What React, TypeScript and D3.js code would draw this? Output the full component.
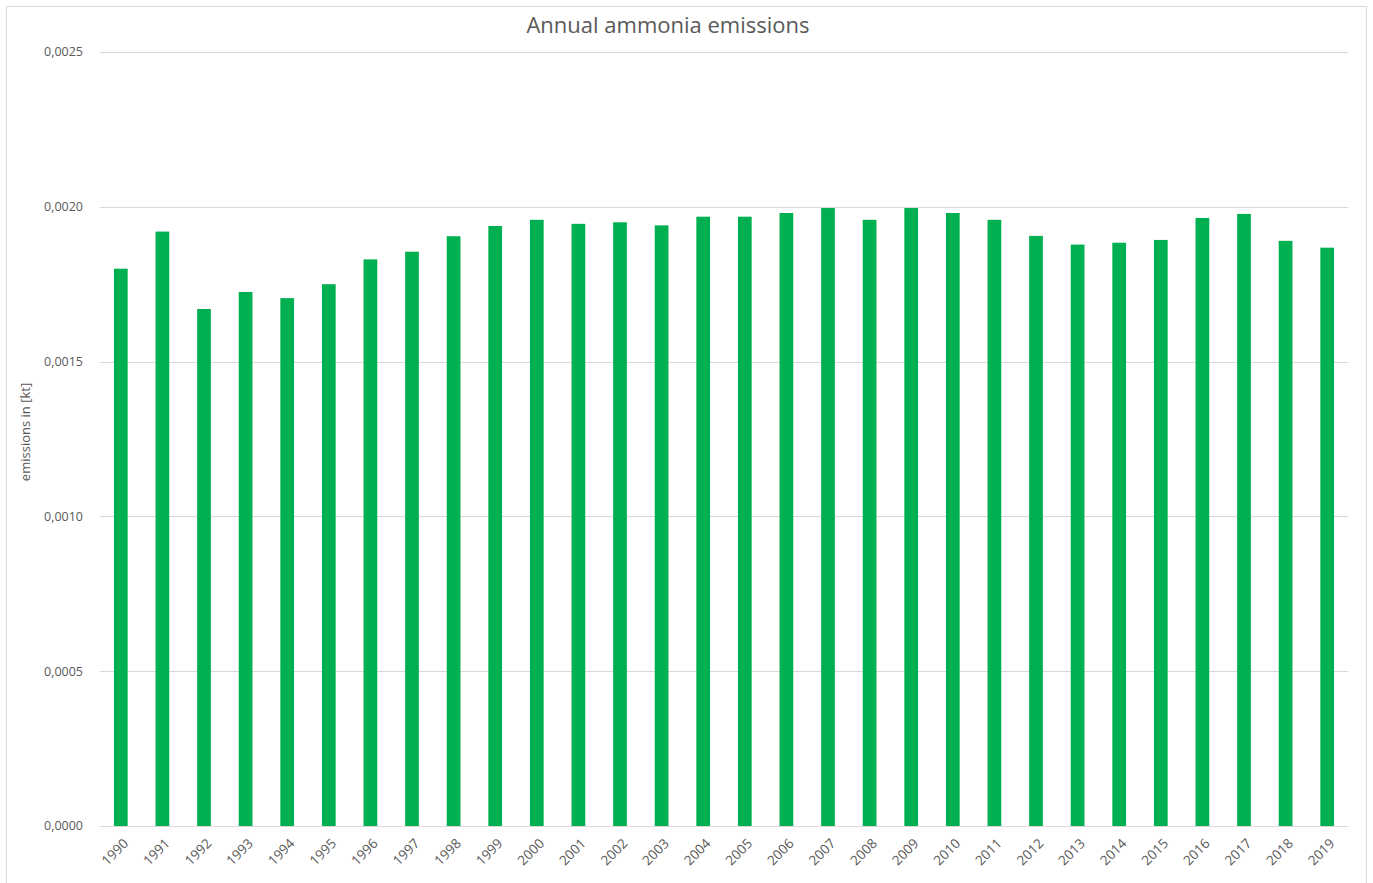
import { useEffect, useRef } from 'react';
import * as d3 from 'd3';

const years = [
  '1990', '1991', '1992', '1993', '1994', '1995', '1996', '1997', '1998', '1999',
  '2000', '2001', '2002', '2003', '2004', '2005', '2006', '2007', '2008', '2009',
  '2010', '2011', '2012', '2013', '2014', '2015', '2016', '2017', '2018', '2019',
];

const emissions = [
  0.00180, 0.00192, 0.00167, 0.001725, 0.001705, 0.00175, 0.00183, 0.001855, 0.001905, 0.001938,
  0.001958, 0.001945, 0.00195, 0.00194, 0.001968, 0.001968, 0.00198, 0.001996, 0.001958, 0.001996,
  0.00198, 0.001958, 0.001906, 0.001878, 0.001884, 0.001893, 0.001964, 0.001977, 0.00189, 0.001868,
];

const yTicks = [0, 0.0005, 0.001, 0.0015, 0.002, 0.0025];

const W = 1373;
const H = 883;
const FONT = '"Open Sans", "DejaVu Sans", sans-serif';

export default function App() {
  const svgRef = useRef<SVGSVGElement>(null);

  useEffect(() => {
    if (!svgRef.current) return;
    const svg = d3.select(svgRef.current);
    svg.selectAll('*').remove();

    const margin = { left: 100, right: 25, top: 52, bottom: 57 };

    // chart frame
    svg.append('rect')
      .attr('x', 6.5).attr('y', 6.5)
      .attr('width', W - 13).attr('height', H - 5)
      .attr('fill', '#fff')
      .attr('stroke', '#d9d9d9');

    const x = d3.scaleBand<string>()
      .domain(years)
      .range([margin.left, W - margin.right])
      .paddingInner(0.67)
      .paddingOuter(0.335);

    const y = d3.scaleLinear()
      .domain([0, 0.0025])
      .range([H - margin.bottom, margin.top]);

    // gridlines
    svg.append('g')
      .selectAll('line')
      .data(yTicks)
      .enter()
      .append('line')
      .attr('x1', margin.left)
      .attr('x2', W - margin.right)
      .attr('y1', d => Math.round(y(d)) + 0.5)
      .attr('y2', d => Math.round(y(d)) + 0.5)
      .attr('stroke', '#d9d9d9')
      .attr('stroke-width', 1);

    // y tick labels
    svg.append('g')
      .selectAll('text')
      .data(yTicks)
      .enter()
      .append('text')
      .attr('x', 83)
      .attr('y', d => y(d))
      .attr('dy', '0.35em')
      .attr('text-anchor', 'end')
      .style('font-family', FONT)
      .style('font-size', '12.5px')
      .style('fill', '#595959')
      .text(d => d3.format('.4f')(d).replace('.', ','));

    // bars
    svg.append('g')
      .selectAll('rect')
      .data(emissions)
      .enter()
      .append('rect')
      .attr('x', (_, i) => x(years[i])!)
      .attr('width', x.bandwidth())
      .attr('y', d => y(d))
      .attr('height', d => y(0) - y(d))
      .attr('fill', '#00b050');

    // x tick labels, rotated
    svg.append('g')
      .selectAll('text')
      .data(years)
      .enter()
      .append('text')
      .attr('transform', d => `translate(${x(d)! + x.bandwidth() / 2 + 5},${y(0) + 15}) rotate(-45)`)
      .attr('text-anchor', 'end')
      .attr('dy', '0.35em')
      .style('font-family', FONT)
      .style('font-size', '13.5px')
      .style('fill', '#595959')
      .text(d => d);

    // title
    svg.append('text')
      .attr('x', 668)
      .attr('y', 25)
      .attr('dy', '0.35em')
      .attr('text-anchor', 'middle')
      .style('font-family', FONT)
      .style('font-size', '22px')
      .style('fill', '#595959')
      .text('Annual ammonia emissions');

    // y axis title
    svg.append('text')
      .attr('transform', `translate(25,432) rotate(-90)`)
      .attr('text-anchor', 'middle')
      .attr('dy', '0.35em')
      .style('font-family', FONT)
      .style('font-size', '13px')
      .style('fill', '#595959')
      .text('emissions in [kt]');
  }, []);

  return (
    <svg
      ref={svgRef}
      width={W}
      height={H}
      style={{ position: 'absolute', left: 0, top: 0, display: 'block', background: '#fff' }}
    />
  );
}
